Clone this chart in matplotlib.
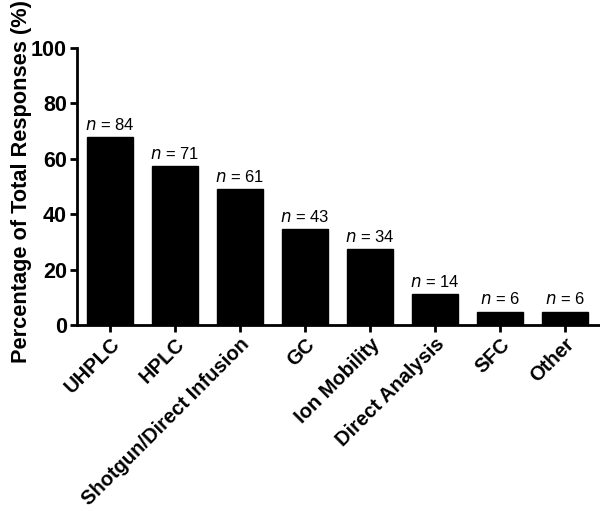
import matplotlib
matplotlib.use('Agg')
import matplotlib.pyplot as plt

plt.rcParams['font.family'] = ['Liberation Sans', 'DejaVu Sans']

categories = ['UHPLC', 'HPLC', 'Shotgun/Direct Infusion', 'GC', 'Ion Mobility',
              'Direct Analysis', 'SFC', 'Other']
counts = [84, 71, 61, 43, 34, 14, 6, 6]
total = 124
percent = [c / total * 100 for c in counts]

fig = plt.figure(figsize=(6, 5.11), dpi=100)
ax = fig.add_axes([0.128, 0.364, 0.87, 0.542])

x = list(range(len(categories)))
ax.bar(x, percent, width=0.71, color='black', edgecolor='black')

for xi, p, c in zip(x, percent, counts):
    ax.annotate(r'$\it{n}$ = %d' % c, (xi, p), xytext=(0, 3), textcoords='offset points',
                ha='center', va='bottom', fontsize=12)

ax.set_xlim(-0.51, 7.52)
ax.set_ylim(0, 100)
ax.set_yticks([0, 20, 40, 60, 80, 100])
ax.set_xticks(x)
ax.set_xticklabels(categories, rotation=45, ha='right', rotation_mode='anchor',
                   fontsize=14.5, fontweight='bold')
for lab in ax.get_yticklabels():
    lab.set_fontsize(15.5)
    lab.set_fontweight('bold')
ax.set_ylabel('Percentage of Total Responses (%)', fontsize=15.7, fontweight='bold')
ax.yaxis.set_label_coords(-0.086, 0.518)

for s in ['top', 'right']:
    ax.spines[s].set_visible(False)
for s in ['left', 'bottom']:
    ax.spines[s].set_linewidth(2)
ax.tick_params(width=2, length=5, direction='out', pad=2)

fig.savefig('out.png', dpi=100)
